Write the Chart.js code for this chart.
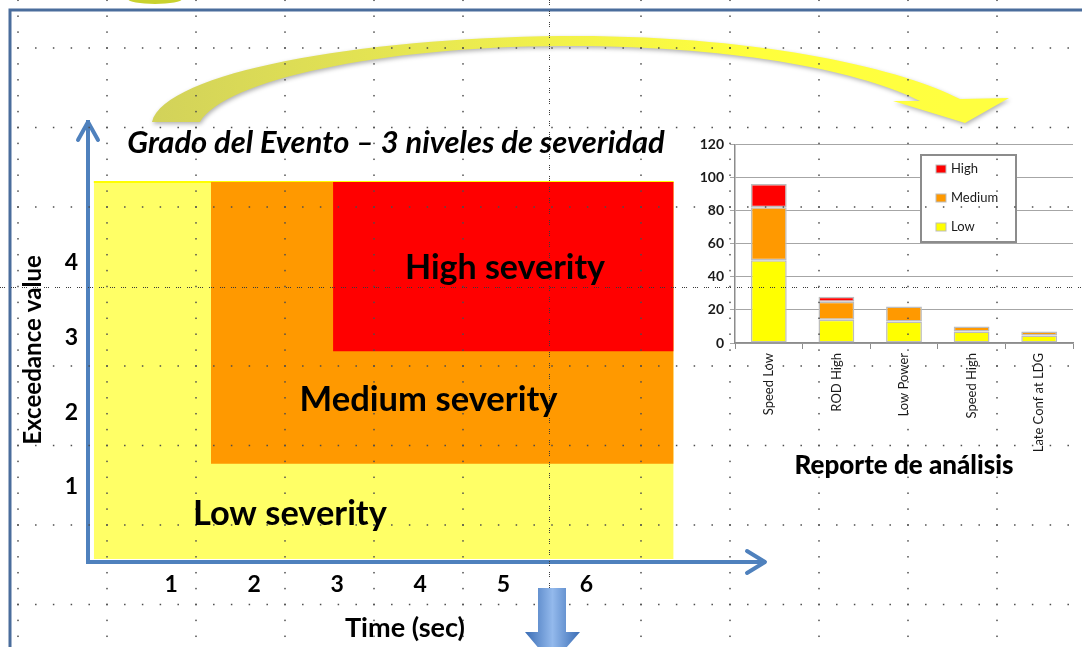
<!DOCTYPE html>
<html lang="es">
  <head>
    <meta charset="utf-8" />
    <title>Grado del Evento</title>
    <style>
      * {
        margin: 0;
        padding: 0;
      }
      body {
        width: 1082px;
        height: 647px;
        overflow: hidden;
        background: #fff;
        position: relative;
      }
      #severityChart {
        position: absolute;
        left: 0;
        top: 0;
      }
      #reportChart {
        position: absolute;
        left: 680px;
        top: 130px;
      }
    </style>
  </head>
  <body>
    <canvas id="severityChart" width="1082" height="647"></canvas>
    <canvas id="reportChart" width="400" height="352"></canvas>

    <script src="https://cdn.jsdelivr.net/npm/chart.js"></script>

    <script>
      // severity map (left): time in sec, exceedance value
      const severityLevels = ["Low severity", "Medium severity", "High severity"];
      const levelStart = [0.07, 1.48, 2.95];
      const levelEnd = [7.05, 7.05, 7.05];
      const levelFloor = [0.04, 1.31, 2.81];
      const levelCeiling = [5.07, 5.07, 5.07];
      const timeTicks = [1, 2, 3, 4, 5, 6];
      const exceedanceTicks = [1, 2, 3, 4];

      // analysis report (right)
      const reportCategories = ["Speed Low", "ROD High", "Low Power", "Speed High", "Late Conf at LDG"];
      const lowCounts = [50, 14, 13, 7, 4.5];
      const mediumCounts = [32, 11, 9, 3, 2.5];
      const highCounts = [14, 3, 0, 0, 0];

      Chart.defaults.font.family = "Lato";

      // set font size so the text fills a given width
      function fitFont(ctx, text, style, width) {
        ctx.font = style + " 100px Lato";
        const size = (100 * width) / ctx.measureText(text).width;
        ctx.font = style + " " + size.toFixed(1) + "px Lato";
      }

      // slide background grid of dots, plus the two dense guide lines
      function drawDots(ctx, ox, oy) {
        ctx.save();
        ctx.fillStyle = "#4d4d4d";
        for (let k = 0; k < 8; k++) {
          if (k === 3) continue;
          const y = 48 + 79.5 * k;
          for (let x = 18; x < 1082; x += 17.8) {
            ctx.fillRect(x - ox - 0.75, y - oy - 0.75, 1.5, 1.5);
          }
        }
        for (let j = 0; j < 13; j++) {
          if (j === 6) continue;
          const x = 18 + 89 * j;
          for (let y = 0.3; y < 647; y += 15.9) {
            ctx.fillRect(x - ox - 0.75, y - oy - 0.75, 1.5, 1.5);
          }
        }
        ctx.strokeStyle = "#3a3a3a";
        ctx.lineWidth = 1;
        ctx.setLineDash([1, 1, 1, 1, 1, 6]);
        ctx.beginPath();
        ctx.moveTo(0 - ox, 287.5 - oy);
        ctx.lineTo(1082 - ox, 287.5 - oy);
        ctx.moveTo(549.5 - ox, 0 - oy);
        ctx.lineTo(549.5 - ox, 647 - oy);
        ctx.stroke();
        ctx.restore();
      }

      const slideDecor = {
        id: "slideDecor",
        beforeDraw(chart) {
          const { ctx, width, height } = chart;
          ctx.save();
          ctx.fillStyle = "#fff";
          ctx.fillRect(0, 0, width, height);

          // frame
          ctx.strokeStyle = "#4a6d9c";
          ctx.lineWidth = 3;
          ctx.beginPath();
          ctx.moveTo(10, height);
          ctx.lineTo(10, 10);
          ctx.lineTo(width, 10);
          ctx.stroke();

          // small shape peeking at the top
          ctx.fillStyle = "#c9d22e";
          ctx.beginPath();
          ctx.ellipse(155, -1, 27, 5, 0, 0, Math.PI * 2);
          ctx.fill();

          // big curved arrow
          const g = ctx.createLinearGradient(150, 0, 950, 0);
          g.addColorStop(0, "#d2d25a");
          g.addColorStop(0.45, "#eeee4e");
          g.addColorStop(0.75, "#ffff3c");
          g.addColorStop(1, "#ffff40");
          ctx.shadowColor = "rgba(0,0,0,0.3)";
          ctx.shadowBlur = 4;
          ctx.shadowOffsetX = 1;
          ctx.shadowOffsetY = 2;
          ctx.fillStyle = g;
          ctx.beginPath();
          ctx.moveTo(152, 122);
          ctx.bezierCurveTo(165, 72, 360, 38, 560, 36);
          ctx.bezierCurveTo(760, 34, 905, 70, 960, 99);
          ctx.lineTo(1009, 98);
          ctx.lineTo(965, 123);
          ctx.lineTo(893, 101);
          ctx.lineTo(920, 101);
          ctx.bezierCurveTo(865, 73, 740, 45, 560, 46);
          ctx.bezierCurveTo(380, 47, 225, 80, 200, 122);
          ctx.closePath();
          ctx.fill();
          ctx.restore();
        },
        afterDatasetsDraw(chart) {
          const {
            ctx,
            chartArea: { left, right, top, bottom },
            scales: { x, y },
          } = chart;
          ctx.save();

          // axis arrowheads
          ctx.strokeStyle = "#4f81bd";
          ctx.lineWidth = 4;
          ctx.lineCap = "round";
          ctx.lineJoin = "round";
          ctx.beginPath();
          ctx.moveTo(left - 10, top + 18);
          ctx.lineTo(left, top);
          ctx.lineTo(left + 10, top + 18);
          ctx.moveTo(right - 18, bottom - 11);
          ctx.lineTo(right, bottom);
          ctx.lineTo(right - 18, bottom + 11);
          ctx.stroke();
          ctx.restore();

          drawDots(ctx, 0, 0);

          ctx.save();
          ctx.fillStyle = "#000";
          ctx.textAlign = "center";
          ctx.textBaseline = "middle";

          // region labels
          const anchors = [
            [2.43, 0.64, 194],
            [4.1, 2.16, 258],
            [5.02, 3.92, 200],
          ];
          severityLevels.forEach((name, i) => {
            const [ax, ay, w] = anchors[i];
            fitFont(ctx, name, "bold", w);
            ctx.fillText(name, x.getPixelForValue(ax), y.getPixelForValue(ay));
          });

          // title and axis titles
          fitFont(ctx, "Grado del Evento – 3 niveles de severidad", "italic bold", 538);
          ctx.fillText("Grado del Evento – 3 niveles de severidad", 396, 143);
          fitFont(ctx, "Time (sec)", "bold", 120);
          ctx.fillText("Time (sec)", 405, 628);
          ctx.translate(33, 350);
          ctx.rotate(-Math.PI / 2);
          fitFont(ctx, "Exceedance value", "bold", 190);
          ctx.fillText("Exceedance value", 0, 0);
          ctx.restore();

          // blue arrow pointing down
          ctx.save();
          const g = ctx.createLinearGradient(525, 0, 580, 0);
          g.addColorStop(0, "#3a6db5");
          g.addColorStop(0.5, "#93b9ec");
          g.addColorStop(1, "#3a6db5");
          ctx.fillStyle = g;
          ctx.beginPath();
          ctx.moveTo(538, 588);
          ctx.lineTo(566, 588);
          ctx.lineTo(566, 632);
          ctx.lineTo(580, 632);
          ctx.lineTo(552, 664);
          ctx.lineTo(525, 632);
          ctx.lineTo(538, 632);
          ctx.closePath();
          ctx.fill();
          ctx.restore();
        },
      };

      const severityChart = new Chart(document.getElementById("severityChart"), {
        type: "line",
        data: {
          datasets: severityLevels.map((name, i) => ({
            label: name,
            data: [
              { x: levelStart[i], y: levelCeiling[i] },
              { x: levelEnd[i], y: levelCeiling[i] },
            ],
            fill: { value: levelFloor[i] },
            backgroundColor: ["#ffff66", "#ff9900", "#ff0000"][i],
            borderColor: i === 0 ? "#ffff00" : "rgba(0,0,0,0)",
            borderWidth: i === 0 ? 2 : 0,
            pointRadius: 0,
            order: 3 - i,
          })),
        },
        options: {
          responsive: false,
          animation: false,
          layout: { padding: { top: 122, right: 317, left: 0, bottom: 0 } },
          plugins: { legend: { display: false }, tooltip: { enabled: false } },
          scales: {
            x: {
              type: "linear",
              min: 0,
              max: 8.15,
              afterFit: (s) => {
                s.height = 85;
              },
              afterBuildTicks: (s) => {
                s.ticks = timeTicks.map((v) => ({ value: v }));
              },
              grid: { display: false, drawTicks: false },
              border: { color: "#4f81bd", width: 4 },
              ticks: { padding: 9, color: "#000", font: { size: 23, weight: "bold" } },
            },
            y: {
              type: "linear",
              min: 0,
              max: 5.87,
              afterFit: (s) => {
                s.width = 88;
              },
              afterBuildTicks: (s) => {
                s.ticks = exceedanceTicks.map((v) => ({ value: v }));
              },
              grid: { display: false, drawTicks: false },
              border: { color: "#4f81bd", width: 4 },
              ticks: { padding: 10, color: "#000", font: { size: 23, weight: "bold" } },
            },
          },
        },
        plugins: [slideDecor],
      });

      // legend box and dot overlay for the small report chart
      const reportOverlay = {
        id: "reportOverlay",
        beforeDraw(chart) {
          const { ctx, width, height } = chart;
          ctx.save();
          ctx.fillStyle = "#fff";
          ctx.fillRect(0, 0, width, height);
          ctx.restore();
        },
        afterDraw(chart) {
          const { ctx } = chart;
          ctx.save();
          ctx.fillStyle = "#fff";
          ctx.fillRect(241, 25, 95, 87);
          ctx.strokeStyle = "#8c8c8c";
          ctx.lineWidth = 2;
          ctx.strokeRect(241, 25, 95, 87);
          ctx.font = "13px Lato";
          ctx.textBaseline = "middle";
          ctx.textAlign = "left";
          chart.data.datasets
            .slice()
            .reverse()
            .forEach((ds, i) => {
              const yy = 39 + i * 29;
              ctx.fillStyle = ds.backgroundColor;
              ctx.fillRect(256, yy - 4, 10, 8);
              ctx.strokeStyle = "#bdbdbd";
              ctx.lineWidth = 1;
              ctx.strokeRect(256, yy - 4, 10, 8);
              ctx.fillStyle = "#1a1a1a";
              ctx.fillText(ds.label, 271, yy);
            });
          ctx.restore();
          drawDots(ctx, 680, 130);
        },
      };

      const reportChart = new Chart(document.getElementById("reportChart"), {
        type: "bar",
        data: {
          labels: reportCategories,
          datasets: [
            { label: "Low", data: lowCounts, backgroundColor: "#ffff00" },
            { label: "Medium", data: mediumCounts, backgroundColor: "#ff9900" },
            { label: "High", data: highCounts, backgroundColor: "#ff0000" },
          ],
        },
        options: {
          responsive: false,
          animation: false,
          layout: { padding: { top: 13, right: 7, left: 0, bottom: 0 } },
          datasets: {
            bar: {
              borderColor: "#bdbdbd",
              borderWidth: 1.5,
              borderSkipped: false,
              barPercentage: 0.53,
              categoryPercentage: 1,
            },
          },
          plugins: { legend: { display: false }, tooltip: { enabled: false } },
          scales: {
            x: {
              stacked: true,
              afterFit: (s) => {
                s.height = 139;
              },
              grid: { drawOnChartArea: false, offset: true, tickLength: 6, color: "#8c8c8c" },
              border: { color: "#8c8c8c", width: 1.5 },
              ticks: {
                minRotation: 90,
                maxRotation: 90,
                autoSkip: false,
                padding: 4,
                color: "#1a1a1a",
                font: { size: 13 },
              },
              title: {
                display: true,
                text: "Reporte de análisis",
                color: "#000",
                font: { size: 26, weight: "900" },
                padding: { top: 0, bottom: 1 },
              },
            },
            y: {
              stacked: true,
              min: 0,
              max: 120,
              afterFit: (s) => {
                s.width = 55;
              },
              grid: { color: "#a6a6a6", tickLength: 5 },
              border: { color: "#8c8c8c", width: 1.5 },
              ticks: { stepSize: 20, padding: 6, color: "#1a1a1a", font: { size: 14, weight: "bold" } },
            },
          },
        },
        plugins: [reportOverlay],
      });
    </script>
  </body>
</html>
